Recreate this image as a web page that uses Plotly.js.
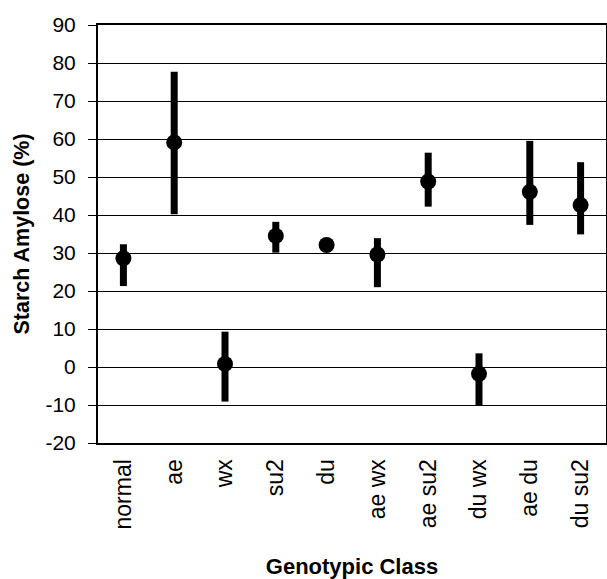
<!DOCTYPE html>
<html><head><meta charset="utf-8">
<script src="https://cdn.plot.ly/plotly-3.0.1.min.js"></script>
<style>html,body{margin:0;padding:0;background:#fff}#chart{width:607px;height:579px}</style>
</head><body><div id="chart"></div>
<script>
const categories = ["normal","ae","wx","su2","du","ae wx","ae su2","du wx","ae du","du su2"];
const meanAmylose = [28.6, 59.1, 0.8, 34.5, 32.1, 29.6, 48.8, -1.8, 46.1, 42.6];
const highAmylose = [32.3, 77.7, 9.3, 38.2, 32.8, 33.9, 56.4, 3.6, 59.5, 53.9];
const lowAmylose  = [21.3, 40.2, -9.1, 30.1, 31.4, 21.0, 42.2, -10.0, 37.4, 34.9];
const yTicks = [-20,-10,0,10,20,30,40,50,60,70,80,90];

const plus = highAmylose.map((h,i)=>h-meanAmylose[i]);
const minus = lowAmylose.map((l,i)=>meanAmylose[i]-l);

const font = "Liberation Sans, Arial, sans-serif";
Plotly.newPlot('chart', [{
  type:'scatter', mode:'markers', x:categories, y:meanAmylose,
  marker:{color:'#000', size:16},
  error_y:{type:'data', symmetric:false, array:plus, arrayminus:minus, color:'#000', thickness:7, width:0},
  showlegend:false
}], {
  width:607, height:579,
  margin:{l:98, r:1, t:25, b:136},
  paper_bgcolor:'#fff', plot_bgcolor:'#fff',
  font:{family:font, color:'#000', size:18},
  xaxis:{type:'category', tickvals:categories, ticktext:categories, tickangle:-90,
    showgrid:false, zeroline:false, showline:true, linecolor:'#000', linewidth:2, mirror:true,
    ticks:'', ticklabelstandoff:5, automargin:false, range:[-0.5,9.5],
    tickfont:{family:font, size:23, color:'#000'},
    title:{text:'<b>Genotypic Class</b>', font:{family:font, size:22, color:'#000'}, standoff:30}},
  yaxis:{range:[-20,90], tickvals:yTicks, ticktext:yTicks.map(String), showgrid:true, gridcolor:'#000', gridwidth:1,
    zeroline:false, showline:true, linecolor:'#000', linewidth:2, mirror:true,
    ticks:'outside', ticklen:8, tickcolor:'#000', tickwidth:1, ticklabelstandoff:8, automargin:false,
    tickfont:{family:font, size:21, color:'#000'},
    title:{text:'<b>Starch Amylose (%)</b>', font:{family:font, size:21.5, color:'#000'}, standoff:10}}
}, {displayModeBar:false, staticPlot:true});
</script></body></html>
